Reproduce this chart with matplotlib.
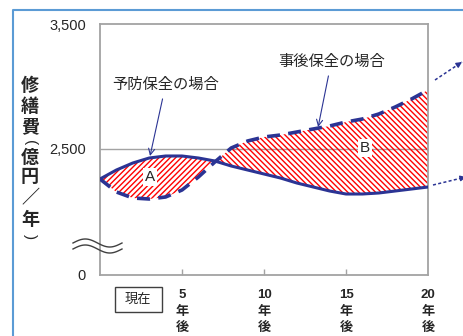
import numpy as np
import matplotlib
matplotlib.use("Agg")
import matplotlib.pyplot as plt
from matplotlib.lines import Line2D
from matplotlib.patches import Rectangle, FancyArrowPatch
from matplotlib.transforms import blended_transform_factory

# 年度別の修繕費（億円／年）
years = list(range(21))
yobou = [2260, 2332, 2388, 2428, 2444, 2444, 2428, 2404, 2364, 2332, 2300,
         2268, 2228, 2196, 2164, 2140, 2140, 2148, 2164, 2180, 2196]
jigo = [2260, 2156, 2108, 2100, 2116, 2172, 2276, 2396, 2508, 2564, 2596,
        2612, 2636, 2660, 2684, 2716, 2740, 2780, 2836, 2900, 2972]

xtick_pos = [5, 10, 15, 20]
xtick_txt = ["5", "10", "15", "20"]
ytick_pos = [1492, 2500, 3500]
ytick_txt = ["0", "2,500", "3,500"]
ylabel_chars = "修繕費(億円／年)"

NAVY = "#2B3494"
TXT = "#262626"
GRAY = "#A3A3A3"
W, H = 463, 336

plt.rcParams["font.family"] = ["Liberation Sans", "Noto Sans CJK JP", "DejaVu Sans"]
plt.rcParams["hatch.linewidth"] = 1.0
plt.rcParams["hatch.color"] = "red"

fig = plt.figure(figsize=(W / 100, H / 100), dpi=100)
ax = fig.add_axes([100 / W, 1 - 275 / H, 328 / W, 251 / H])

# A: 予防保全の方が高い部分、B: 事後保全の方が高い部分
y1 = np.array(yobou)
y2 = np.array(jigo)
ax.fill_between(years, y1, y2, where=y2 <= y1, interpolate=True,
                facecolor="none", edgecolor="red", hatch="/" * 6, linewidth=0)
ax.fill_between(years, y1, y2, where=y2 >= y1, interpolate=True,
                facecolor="none", edgecolor="red", hatch="\\" * 6, linewidth=0)

ax.axhline(2500, color=GRAY, lw=1, zorder=0.5)
ax.plot(years, yobou, color=NAVY, lw=2.2, solid_capstyle="round", zorder=3)
ax.plot(years, jigo, color=NAVY, lw=2.6, ls=(0, (3.6, 2.3)), zorder=3)

ax.set_xlim(0, 20)
ax.set_ylim(ytick_pos[0], ytick_pos[-1])
ax.set_yticks(ytick_pos, ytick_txt)
ax.tick_params(axis="y", length=0, pad=10, labelsize=10.5, labelcolor=TXT)
ax.set_xticks(xtick_pos[:-1], [""] * 3)
ax.tick_params(axis="x", direction="in", length=4, width=1, color=GRAY)
for s in ax.spines.values():
    s.set_color(GRAY)
    s.set_linewidth(1.3)

# 横軸ラベル（縦書き）
tr = blended_transform_factory(ax.transData, fig.transFigure)
for xp, t in zip(xtick_pos, xtick_txt):
    for ch, yp in zip([t, "年", "後"], [295, 312, 328]):
        ax.text(xp, 1 - yp / H, ch, transform=tr, ha="center", va="center",
                fontsize=9.5, fontweight="bold", color=TXT, clip_on=False)

fig.text(138 / W, 1 - 300 / H, "現在", ha="center", va="center",
         fontsize=9.5, color=TXT)
fig.add_artist(Rectangle((115 / W, 1 - 312 / H), 47 / W, 25 / H,
                         transform=fig.transFigure, fill=False,
                         ec="#404040", lw=1))

# 縦軸タイトル（括弧は横倒し）
ys = [86, 107, 128, 143, 158, 178, 199, 220, 237]
for ch, yp in zip(ylabel_chars, ys):
    if ch in "()":
        fig.text(30 / W, 1 - yp / H, ch, ha="center", va="center",
                 fontsize=11, rotation=-90, color=TXT)
    else:
        fig.text(30 / W, 1 - yp / H, ch, ha="center", va="center",
                 fontsize=13, fontweight="bold", color=TXT)

# 波線（軸の省略）
xs = np.linspace(73, 122, 80)
for c in (243, 249):
    yw = c - 4 * np.sin(2 * np.pi * (xs - 73) / 49)
    fig.add_artist(Line2D(xs / W, 1 - yw / H, transform=fig.transFigure,
                          color="#404040", lw=1))

# 吹き出し
arw = dict(arrowstyle="->", color=NAVY, lw=0.8, shrinkA=3, shrinkB=0)
ax.annotate("予防保全の場合", xy=(3.05, 2444), xytext=(4.0, 3012),
            ha="center", va="center", fontsize=11, color=TXT, arrowprops=arw)
ax.annotate("事後保全の場合", xy=(13.3, 2676), xytext=(14.1, 3196),
            ha="center", va="center", fontsize=11, color=TXT, arrowprops=arw)

box = dict(boxstyle="square,pad=0.15", fc="white", ec="none")
ax.text(3.05, 2276, "A", ha="center", va="center", fontsize=11,
        color=TXT, bbox=box, zorder=4)
ax.text(16.15, 2508, "B", ha="center", va="center", fontsize=11,
        color=TXT, bbox=box, zorder=4)

# 右側への点線矢印
for (x0, y0), (x1, y1_) in [((435, 80), (462, 62)), ((433, 185), (466, 177))]:
    fig.add_artist(Line2D([x0 / W, x1 / W], [1 - y0 / H, 1 - y1_ / H],
                          transform=fig.transFigure, color=NAVY, lw=1.1,
                          ls=(0, (2, 1.5))))
    dx, dy = x1 - x0, y1_ - y0
    n = np.hypot(dx, dy)
    fig.add_artist(FancyArrowPatch(
        (x1 - 5 * dx / n, H - (y1_ - 5 * dy / n)), (x1, H - y1_),
        transform=None, arrowstyle="-|>", mutation_scale=8,
        color=NAVY, lw=1))

# 枠線
fig.add_artist(Line2D([13 / W, 13 / W, 1], [0, 1 - 10 / H, 1 - 10 / H],
                      transform=fig.transFigure, color="#5B9BD5", lw=1.5))

fig.savefig("out.png", dpi=100)
